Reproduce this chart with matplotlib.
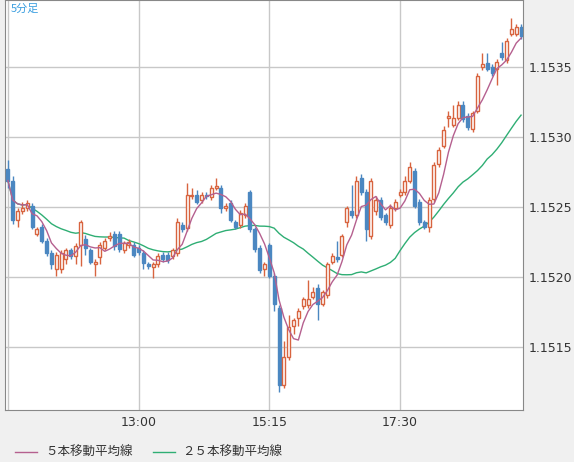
import numpy as np
import pandas as pd
import matplotlib.pyplot as plt

plt.rcParams['font.family'] = ['Noto Sans CJK JP', 'DejaVu Sans']

BASE = 1.15
UNIT = 1e-5  # values below are pipettes above BASE

# (open, high, low, close) per 5-minute bar
ohlc = [
    (277, 284, 264, 269), (269, 272, 238, 241), (241, 249, 236, 247), (247, 254, 245, 249),
    (249, 255, 247, 253), (251, 253, 234, 236), (231, 236, 229, 234), (236, 238, 224, 226),
    (226, 228, 215, 217), (217, 219, 206, 209), (206, 218, 201, 216), (206, 219, 203, 217),
    (213, 221, 209, 219), (219, 221, 213, 215), (215, 224, 209, 222), (223, 241, 208, 239),
    (227, 230, 216, 221), (219, 221, 209, 211), (209, 213, 201, 211), (214, 225, 209, 223),
    (221, 228, 219, 226), (228, 232, 226, 229), (231, 233, 219, 222),
    (231, 233, 218, 220), (219, 226, 217, 224), (223, 227, 221, 225), (223, 225, 214, 216),
    (221, 223, 216, 218), (217, 219, 206, 210), (209, 211, 206, 208), (207, 211, 199, 209),
    (209, 217, 207, 215), (216, 218, 211, 213), (216, 218, 210, 212),
    (215, 221, 213, 219), (217, 242, 215, 239), (237, 239, 232, 234), (235, 267, 233, 259),
    (258, 264, 256, 259), (259, 262, 252, 254), (255, 261, 253, 259), (259, 261, 256, 258),
    (257, 266, 255, 264), (264, 271, 262, 265), (264, 266, 246, 249), (249, 253, 247, 251),
    (253, 255, 239, 241), (239, 241, 234, 236), (237, 248, 235, 246), (244, 253, 242, 251),
    (261, 262, 232, 234), (234, 236, 218, 220), (221, 223, 203, 205), (206, 211, 201, 209),
    (223, 224, 199, 201), (201, 203, 176, 181), (178, 180, 118, 123), (123, 154, 121, 143),
    (143, 173, 141, 164), (165, 171, 159, 169), (171, 178, 165, 176), (179, 186, 177, 184),
    (180, 198, 178, 184), (186, 193, 184, 189), (192, 195, 169, 181), (181, 191, 179, 189),
    (187, 211, 185, 209), (211, 217, 209, 215), (214, 226, 211, 213), (216, 231, 214, 229),
    (239, 251, 236, 249), (247, 266, 242, 244), (244, 272, 242, 269), (271, 274, 259, 261),
    (261, 263, 226, 234), (229, 271, 227, 269), (247, 258, 244, 255), (255, 257, 241, 243),
    (244, 246, 237, 239), (237, 252, 235, 249), (249, 256, 247, 254), (259, 263, 257, 261),
    (261, 272, 259, 269), (269, 282, 267, 279), (276, 278, 249, 251), (254, 256, 237, 239),
    (239, 241, 234, 236), (236, 257, 232, 255), (256, 282, 254, 280), (281, 293, 279, 291),
    (294, 308, 292, 305), (314, 319, 307, 315), (309, 323, 307, 314), (314, 326, 312, 323),
    (323, 326, 311, 313), (315, 317, 305, 307), (306, 319, 304, 317), (319, 346, 317, 344),
    (350, 360, 348, 352), (353, 360, 347, 349), (350, 352, 344, 346), (349, 356, 337, 354),
    (360, 368, 355, 357), (355, 371, 353, 369), (374, 385, 372, 377), (374, 381, 372, 379),
    (379, 381, 370, 372),
]
tick_pos = [27, 54, 81]
tick_labels = ["13:00", "15:15", "17:30"]
y_ticks = [1.1515, 1.1520, 1.1525, 1.1530, 1.1535]

df = pd.DataFrame(ohlc, columns=["o", "h", "l", "c"]) * UNIT + BASE
ma5 = df["c"].rolling(5, min_periods=1).mean()
ma25 = df["c"].rolling(25, min_periods=1).mean()

UP = "#d8643f"
DOWN = "#4b87c1"
MA5_C = "#b5608f"
MA25_C = "#2fae74"

fig = plt.figure(figsize=(5.74, 4.62), dpi=100, facecolor="#f0f0f0")
ax = fig.add_axes([5 / 574, 52 / 462, 518 / 574, 410 / 462])
ax.set_facecolor("white")

x = np.arange(len(df))
for i, r in df.iterrows():
    up = r.c >= r.o
    col = UP if up else DOWN
    lo, hi = min(r.o, r.c), max(r.o, r.c)
    ax.vlines(i, r.l, r.h, color=col, lw=1, zorder=3)
    ax.bar(i, max(hi - lo, 0.000004), bottom=lo, width=0.62,
           facecolor="white" if up else col, edgecolor=col, lw=1, zorder=4)

ax.plot(x, ma5, color=MA5_C, lw=1, zorder=5)
ax.plot(x, ma25, color=MA25_C, lw=1, zorder=2)

ax.set_xlim(-0.6, 106.4)
ax.set_ylim(BASE + 105 * UNIT, BASE + 398 * UNIT)
ax.set_xticks([0] + tick_pos)
ax.set_xticklabels([""] + tick_labels, fontsize=9, family="DejaVu Sans")
ax.set_yticks(y_ticks)
ax.set_yticklabels([f"{v:.4f}" for v in y_ticks], fontsize=9, family="DejaVu Sans")
ax.yaxis.tick_right()
ax.tick_params(length=0, pad=4, colors="#333333")
ax.grid(True, color="#c8c8c8", lw=1)
ax.set_axisbelow(True)
for s in ax.spines.values():
    s.set_color("#888888")

ax.text(0.012, 0.99, "5分足", transform=ax.transAxes, ha="left", va="top",
        fontsize=8, color="#3a9ee0")

fig.lines.append(plt.Line2D([15 / 574, 37 / 574], [10 / 462, 10 / 462], color=MA5_C, lw=1,
                            transform=fig.transFigure))
fig.text(45 / 574, 10 / 462, "５本移動平均線", fontsize=9, va="center", color="#333333")
fig.lines.append(plt.Line2D([153 / 574, 175 / 574], [10 / 462, 10 / 462], color=MA25_C, lw=1,
                            transform=fig.transFigure))
fig.text(182 / 574, 10 / 462, "２５本移動平均線", fontsize=9, va="center", color="#333333")

fig.savefig("out.png", dpi=100, facecolor=fig.get_facecolor())
